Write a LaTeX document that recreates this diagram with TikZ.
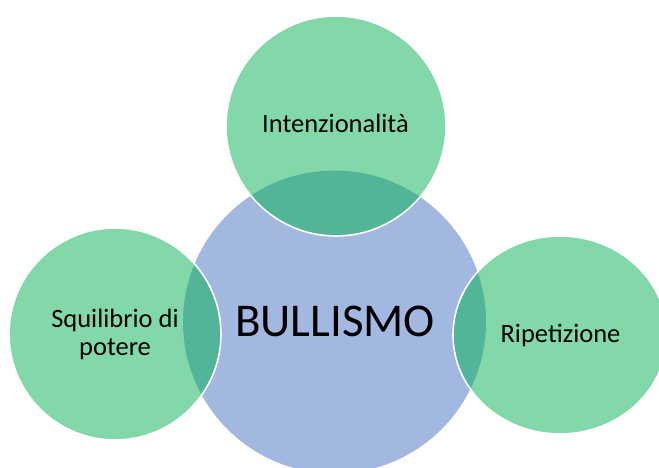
\documentclass[tikz,border=0pt]{standalone}
\usepackage{fontspec}
\setmainfont{Carlito}
\usetikzlibrary{shapes.geometric}
\definecolor{blueC}{HTML}{A2B8E0}
\definecolor{greenC}{HTML}{82D8A9}
\definecolor{tealC}{HTML}{52B59A}
\tikzset{
  hub/.style={circle, fill=blueC, inner sep=0pt, minimum size=303pt},
  petal/.style={circle, fill=greenC, inner sep=0pt},
  lbl/.style={anchor=base, inner sep=0pt, text=black, font=\fontsize{26.5}{28}\selectfont},
  big/.style={anchor=base, inner sep=0pt, text=black, font=\fontsize{47}{50}\selectfont},
  rim/.style={draw=white, line width=1.6pt}
}
\begin{document}
\begin{tikzpicture}[x=1pt,y=-1pt]
\useasboundingbox (0,0) rectangle (659,468);
\clip (0,0) rectangle (659,468);
% hub
\node[hub] (hub) at (334.5,322) {};
% petals
\node[petal, minimum size=220pt] (top) at (336,126) {};
\node[petal, minimum size=212pt] (left) at (115,334) {};
\node[fill=greenC, inner sep=0pt, ellipse, minimum width=214pt, minimum height=198pt] (right) at (560,335) {};
% overlaps
\begin{scope}
  \clip (334.5,322) circle (151.5);
  \fill[tealC] (336,126) circle (110);
  \fill[tealC] (115,334) circle (106);
  \fill[tealC] (560,335) ellipse (107 and 99);
\end{scope}
% white rims
\draw[rim] (336,126) circle (110);
\draw[rim] (115,334) circle (106);
\draw[rim] (560,335) ellipse (107 and 99);
% labels
\node[big] (tbull) at (335,336) {BULLISMO};
\node[lbl] (tint) at (335.5,132.7) {Intenzionalità};
\node[lbl] (trip) at (560.5,342.3) {Ripetizione};
\node[lbl, align=center] (tsq) at (115,355.3) {Squilibrio di\\potere};
\end{tikzpicture}
\end{document}
